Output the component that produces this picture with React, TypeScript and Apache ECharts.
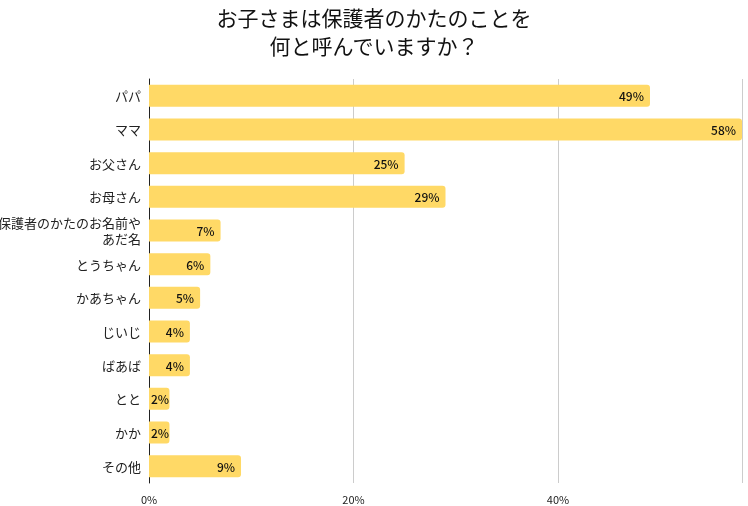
import React, { useEffect, useRef } from 'react';
import * as echarts from 'echarts';

// 呼び方
const categories = [
    'パパ',
    'ママ',
    'お父さん',
    'お母さん',
    '保護者のかたのお名前やあだ名',
    'とうちゃん',
    'かあちゃん',
    'じいじ',
    'ばあば',
    'とと',
    'かか',
    'その他',
];

// 割合 (%)
const values = [49, 58, 25, 29, 7, 6, 5, 4, 4, 2, 2, 9];

const titleText = 'お子さまは保護者のかたのことを\n何と呼んでいますか？';

const FONT = '"Noto Sans CJK JP", "Noto Sans", sans-serif';

const App = () => {
    const chartRef = useRef<HTMLDivElement>(null);

    useEffect(() => {
        const chart = echarts.init(chartRef.current, null, { renderer: 'svg' });

        // 短いバーはラベルを左寄せにしてはみ出さないようにする
        const barData = values.map((v) =>
            v < 3 ? { value: v, label: { position: 'insideLeft', distance: 2 } } : v
        );

        chart.setOption({
            animation: false,
            textStyle: { fontFamily: FONT },
            title: {
                text: titleText,
                left: 'center',
                top: -2,
                textStyle: {
                    fontFamily: FONT,
                    fontSize: 21,
                    fontWeight: 'normal',
                    color: '#111',
                    lineHeight: 28,
                },
            },
            grid: {
                left: 149,
                right: 6,
                top: 79,
                bottom: 23,
                containLabel: false,
                outerBoundsMode: 'none',
            },
            xAxis: {
                type: 'value',
                min: 0,
                max: 58,
                interval: 20,
                axisLine: { show: false },
                axisTick: { show: false },
                splitLine: { lineStyle: { color: '#cccccc', width: 1 } },
                axisLabel: {
                    formatter: (v: number) => (v % 20 === 0 ? v + '%' : ''),
                    fontSize: 11,
                    color: '#222',
                    margin: 10,
                    showMaxLabel: false,
                },
            },
            yAxis: {
                type: 'category',
                data: categories,
                inverse: true,
                axisLine: { show: true, lineStyle: { color: '#222', width: 1 } },
                axisTick: { show: false },
                axisLabel: {
                    fontSize: 13,
                    color: '#222',
                    margin: 8,
                    lineHeight: 16,
                    formatter: (s: string) =>
                        s.length > 11 ? s.slice(0, 11) + '\n' + s.slice(11) : s,
                },
            },
            series: [
                {
                    type: 'bar',
                    data: barData,
                    barWidth: 22,
                    itemStyle: {
                        color: '#FFD966',
                        borderRadius: [0, 3, 3, 0],
                    },
                    label: {
                        show: true,
                        position: 'insideRight',
                        distance: 6,
                        formatter: '{c}%',
                        fontSize: 12,
                        color: '#111',
                        fontWeight: 500,
                    },
                },
            ],
        });

        return () => {
            chart.dispose();
        };
    }, []);

    return (
        <div
            ref={chartRef}
            style={{ position: 'fixed', left: 0, top: 0, width: '748px', height: '506px' }}
        ></div>
    );
};

export default App;
